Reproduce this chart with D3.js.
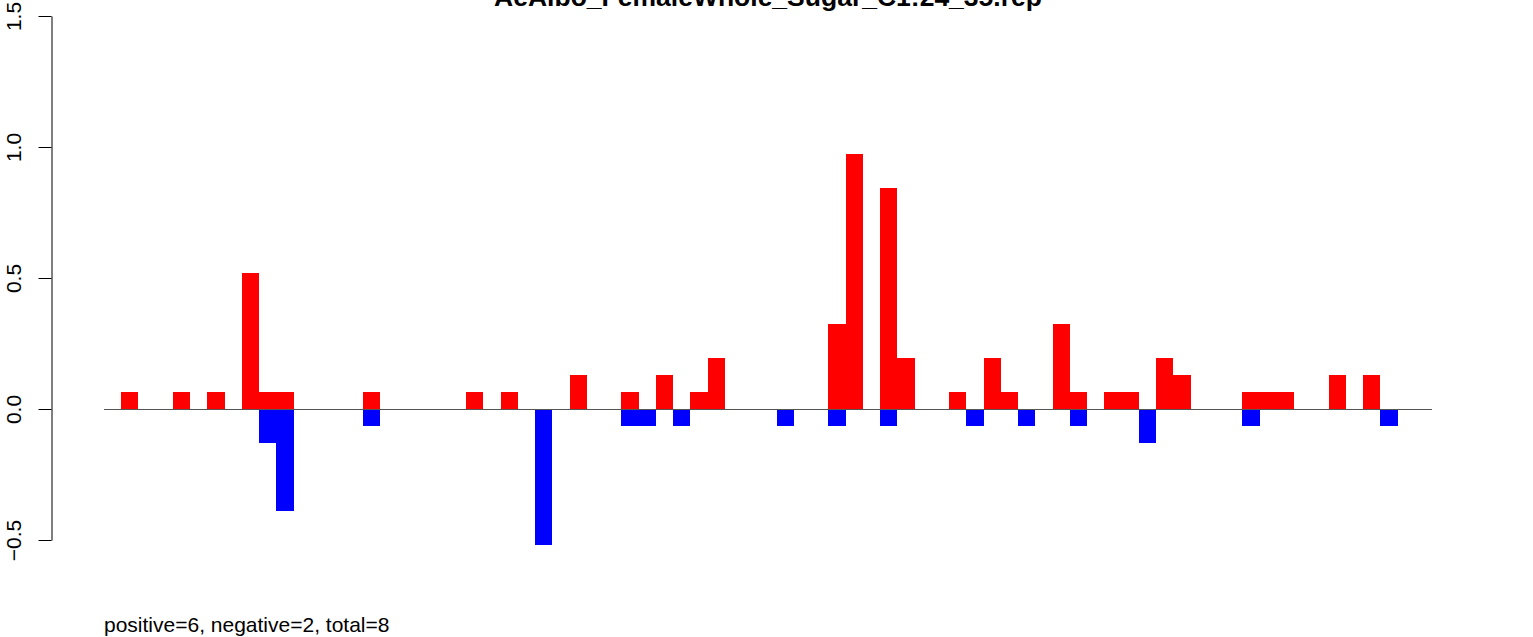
<!DOCTYPE html>
<html>
<head>
<meta charset="utf-8">
<script src="https://cdn.jsdelivr.net/npm/d3@7"></script>
<style>
html,body{margin:0;padding:0;background:#fff;}
svg{display:block;font-family:"Liberation Sans",Arial,Helvetica,sans-serif;}
</style>
</head>
<body>
<svg id="chart" width="1533" height="637"></svg>
<script>
// ---- data ----
const titleText = "AeAlbo_FemaleWhole_Sugar_C1:24_35.rep";
const footerText = "positive=6, negative=2, total=8";
const slots = d3.range(77); // categories: slot index along the x axis
const positive = [
  0,0.065,0,0,0.065,0,0.065,0,0.52,0.065,
  0.065,0,0,0,0,0.065,0,0,0,0,
  0,0.065,0,0.065,0,0,0,0.13,0,0,
  0.065,0,0.13,0,0.065,0.195,0,0,0,0,
  0,0,0.325,0.975,0,0.845,0.195,0,0,0.065,
  0,0.195,0.065,0,0,0.325,0.065,0,0.065,0.065,
  0,0.195,0.13,0,0,0,0.065,0.065,0.065,0,
  0,0.13,0,0.13,0,0,0
];
const negative = [
  0,0,0,0,0,0,0,0,0,-0.13,
  -0.39,0,0,0,0,-0.065,0,0,0,0,
  0,0,0,0,0,-0.52,0,0,0,0,
  -0.065,-0.065,0,-0.065,0,0,0,0,0,-0.065,
  0,0,-0.065,0,0,-0.065,0,0,0,0,
  -0.065,0,0,-0.065,0,0,-0.065,0,0,0,
  -0.13,0,0,0,0,0,-0.065,0,0,0,
  0,0,0,0,-0.065,0,0
];
const yTicks = [-0.5, 0, 0.5, 1.0, 1.5];

// ---- drawing ----
const svg = d3.select("#chart");
const x = d3.scaleBand().domain(slots).range([104, 1432]).padding(0);
const y = d3.scaleLinear().domain([-0.5, 1.5]).range([540, 16]);

svg.append("g").selectAll("rect.pos")
  .data(slots.filter(i => positive[i] > 0))
  .join("rect")
  .attr("x", i => x(i))
  .attr("width", x.bandwidth())
  .attr("y", i => y(positive[i]))
  .attr("height", i => y(0) - y(positive[i]))
  .attr("fill", "#ff0000")
  .attr("shape-rendering", "crispEdges");

svg.append("g").selectAll("rect.neg")
  .data(slots.filter(i => negative[i] < 0))
  .join("rect")
  .attr("x", i => x(i))
  .attr("width", x.bandwidth())
  .attr("y", y(0))
  .attr("height", i => y(negative[i]) - y(0))
  .attr("fill", "#0000ff")
  .attr("shape-rendering", "crispEdges");

// zero line
svg.append("line")
  .attr("x1", x.range()[0]).attr("x2", x.range()[1])
  .attr("y1", Math.round(y(0)) + 0.5).attr("y2", Math.round(y(0)) + 0.5)
  .attr("stroke", "#555555").attr("stroke-width", 1);

// y axis
const yAxis = d3.axisLeft(y).tickValues(yTicks).tickSize(13).tickSizeOuter(0)
  .tickFormat(d3.format(".1f"));
const gy = svg.append("g").attr("transform", "translate(51.5,0)").call(yAxis);
gy.select(".domain").attr("stroke", "#000");
gy.selectAll(".tick line").attr("stroke", "#000");
gy.selectAll(".tick text")
  .attr("font-size", 21)
  .attr("font-family", "Liberation Sans, Arial, sans-serif")
  .attr("fill", "#000")
  .attr("text-anchor", "middle")
  .attr("x", null).attr("dy", null)
  .attr("transform", "translate(-30.5,0) rotate(-90)")
  .attr("y", 0);

// title
svg.append("text")
  .attr("x", 768).attr("y", 6)
  .attr("text-anchor", "middle")
  .attr("font-weight", "bold")
  .attr("font-size", 26.5)
  .attr("fill", "#000")
  .text(titleText);

// footer
svg.append("text")
  .attr("x", 104).attr("y", 632)
  .attr("font-size", 21)
  .attr("fill", "#000")
  .text(footerText);
</script>
</body>
</html>
